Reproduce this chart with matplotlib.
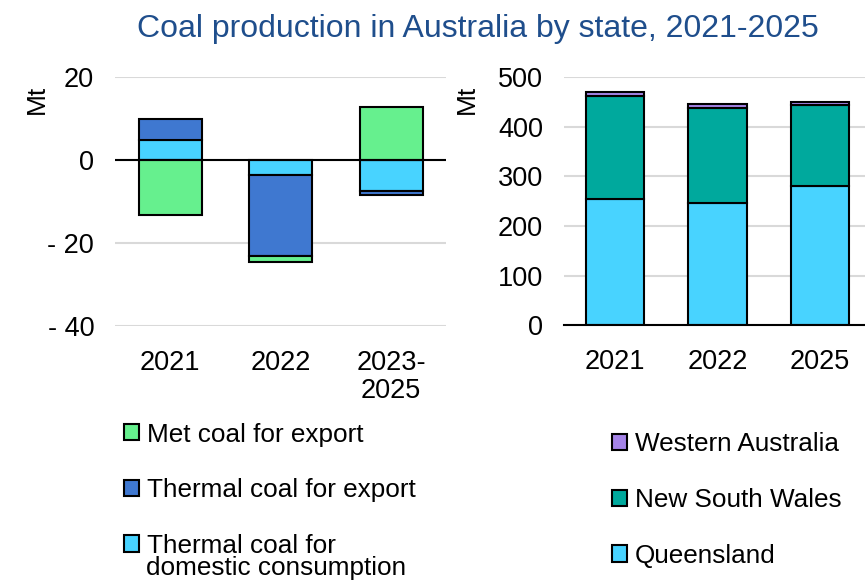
import matplotlib.pyplot as plt
import numpy as np

plt.rcParams['font.family'] = ['Liberation Sans', 'DejaVu Sans']

# left chart: change by coal type (Mt)
left_cats = ["2021", "2022", "2023-\n2025"]
domestic = np.array([4.7, -3.7, -7.4])
thermal_export = np.array([5.2, -19.5, -1.1])
met_export = np.array([-13.3, -1.5, 12.7])

# right chart: production by state (Mt)
right_cats = ["2021", "2022", "2025"]
queensland = np.array([254, 247, 280])
nsw = np.array([207, 191, 163])
wa = np.array([8, 7, 6])

c_met = "#66F08E"
c_therm = "#3F78D0"
c_dom = "#48D3FF"
c_nsw = "#00A99D"
c_qld = "#48D3FF"
c_wa = "#A584E8"
edge = dict(edgecolor="black", linewidth=1.5)
leg_kw = dict(frameon=False, fontsize=18.8, handlelength=0.58, handleheight=0.58,
              handletextpad=0.3, labelspacing=1.21, borderaxespad=0, borderpad=0)

fig = plt.figure(figsize=(8.65, 5.82), dpi=100)

# ---- left
ax1 = fig.add_axes([0.133, 0.4399, 0.383, 0.428])
x = np.arange(len(left_cats))
w = 0.57
series = [(domestic, c_dom, "Thermal coal for"),
          (thermal_export, c_therm, "Thermal coal for export"),
          (met_export, c_met, "Met coal for export")]
pos_base = np.zeros(3)
neg_base = np.zeros(3)
bars = []
for vals, col, lab in series:
    base = np.where(vals >= 0, pos_base, neg_base)
    bars.append(ax1.bar(x, vals, w, bottom=base, color=col, label=lab, zorder=3, **edge))
    pos_base = pos_base + np.where(vals >= 0, vals, 0)
    neg_base = neg_base + np.where(vals < 0, vals, 0)
ax1.set_xlim(-0.5, 2.5)
ax1.set_ylim(-40, 20)
ax1.set_yticks([-40, -20, 0, 20])
ax1.set_yticklabels(["- 40", "- 20", "0", "20"])
ax1.axhline(0, color="black", linewidth=1.5, zorder=4)
ax1.grid(axis="y", color="#D9D9D9", linewidth=1.5, zorder=0)
ax1.set_xticks(x)
ax1.set_xticklabels(left_cats, linespacing=1.1, va="top")
for s in ax1.spines.values():
    s.set_visible(False)
ax1.tick_params(length=0, labelsize=19.5, pad=15)
ax1.tick_params(axis="x", pad=17)

handles = bars[::-1]
fig.legend(handles, [h.get_label() for h in handles], loc="upper left",
           bbox_to_anchor=(124 / 865, 0.274), **leg_kw)
fig.text(146 / 865, 1 - 568 / 582, "domestic consumption", fontsize=18.8,
         ha="left", va="center")

# ---- right
ax2 = fig.add_axes([0.652, 0.441, 0.355, 0.427])
x2 = np.arange(len(right_cats))
b_qld = ax2.bar(x2, queensland, w, color=c_qld, label="Queensland", zorder=3, **edge)
b_nsw = ax2.bar(x2, nsw, w, bottom=queensland, color=c_nsw, label="New South Wales", zorder=3, **edge)
b_wa = ax2.bar(x2, wa, w, bottom=queensland + nsw, color=c_wa, label="Western Australia", zorder=3, **edge)
ax2.set_xlim(-0.5, 2.5)
ax2.set_ylim(0, 500)
ax2.set_yticks(np.arange(0, 501, 100))
ax2.grid(axis="y", color="#D9D9D9", linewidth=1.5, zorder=0)
ax2.set_xticks(x2)
ax2.set_xticklabels(right_cats)
for k, s in ax2.spines.items():
    s.set_visible(k == "bottom")
ax2.spines["bottom"].set_linewidth(1.5)
ax2.spines["bottom"].set_zorder(5)
ax2.tick_params(length=0, labelsize=19.5, pad=15)
ax2.tick_params(axis="x", pad=17)

fig.legend([b_wa, b_nsw, b_qld], ["Western Australia", "New South Wales", "Queensland"],
           loc="upper left", bbox_to_anchor=(612 / 865, 0.2569), **leg_kw)

fig.text(37 / 865, 1 - 99 / 582, "Mt", rotation=90, fontsize=19, ha="center", va="center")
fig.text(467 / 865, 1 - 99 / 582, "Mt", rotation=90, fontsize=19, ha="center", va="center")
fig.text(478 / 865, 1 - 29 / 582, "Coal production in Australia by state, 2021-2025",
         fontsize=23, color="#1F4E8C", ha="center", va="center")

fig.savefig("out.png", dpi=100)
